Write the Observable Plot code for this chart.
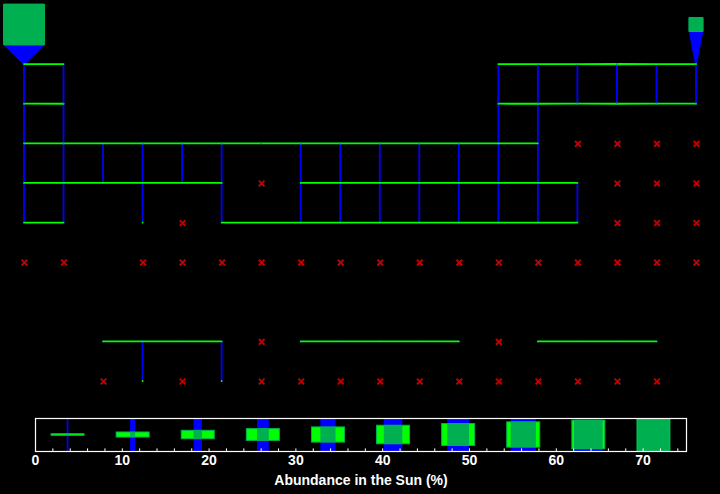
<!DOCTYPE html>
<html>
<head>
<meta charset="utf-8">
<script src="https://cdn.jsdelivr.net/npm/d3@7"></script>
<script src="https://cdn.jsdelivr.net/npm/@observablehq/plot@0.6"></script>
<style>
  html, body { margin: 0; padding: 0; background: #000; }
  #chart svg { display: block; }
</style>
</head>
<body>
<div id="chart"></div>
<script>
// Elements (row 1-7 = periods, row 9 = lanthanides, row 10 = actinides)
const symbols = [
  "H","He",
  "Li","Be","B","C","N","O","F","Ne",
  "Na","Mg","Al","Si","P","S","Cl","Ar",
  "K","Ca","Sc","Ti","V","Cr","Mn","Fe","Co","Ni","Cu","Zn","Ga","Ge","As","Se","Br","Kr",
  "Rb","Sr","Y","Zr","Nb","Mo","Tc","Ru","Rh","Pd","Ag","Cd","In","Sn","Sb","Te","I","Xe",
  "Cs","Ba","Hf","Ta","W","Re","Os","Ir","Pt","Au","Hg","Tl","Pb","Bi","Po","At","Rn",
  "Fr","Ra","Rf","Db","Sg","Bh","Hs","Mt","Ds","Rg","Cn","Nh","Fl","Mc","Lv","Ts","Og",
  "La","Ce","Pr","Nd","Pm","Sm","Eu","Gd","Tb","Dy","Ho","Er","Tm","Yb","Lu",
  "Ac","Th","Pa","U","Np","Pu","Am","Cm","Bk","Cf","Es","Fm","Md","No","Lr"
];
const groups = [
  1,18,
  1,2,13,14,15,16,17,18,
  1,2,13,14,15,16,17,18,
  1,2,3,4,5,6,7,8,9,10,11,12,13,14,15,16,17,18,
  1,2,3,4,5,6,7,8,9,10,11,12,13,14,15,16,17,18,
  1,2,4,5,6,7,8,9,10,11,12,13,14,15,16,17,18,
  1,2,4,5,6,7,8,9,10,11,12,13,14,15,16,17,18,
  3,4,5,6,7,8,9,10,11,12,13,14,15,16,17,
  3,4,5,6,7,8,9,10,11,12,13,14,15,16,17
];
const rows = [
  1,1,
  2,2,2,2,2,2,2,2,
  3,3,3,3,3,3,3,3,
  4,4,4,4,4,4,4,4,4,4,4,4,4,4,4,4,4,4,
  5,5,5,5,5,5,5,5,5,5,5,5,5,5,5,5,5,5,
  6,6,6,6,6,6,6,6,6,6,6,6,6,6,6,6,6,
  7,7,7,7,7,7,7,7,7,7,7,7,7,7,7,7,7,
  9,9,9,9,9,9,9,9,9,9,9,9,9,9,9,
  10,10,10,10,10,10,10,10,10,10,10,10,10,10,10
];
// Abundance in the Sun (% by mass); null = no data
const abundance = [
  73.46, 24.0,
  6e-7, 1e-8, 4e-7, 0.29, 0.09, 0.77, 5e-5, 0.12,
  0.0033, 0.05, 0.0055, 0.07, 0.0007, 0.04, 0.0009, 0.007,
  0.0004, 0.006, 4e-6, 0.0003, 3e-5, 0.0017, 0.001, 0.16, 0.0004, 0.007, 7e-5, 0.0002, 6e-6, 2e-5, null, null, null, null,
  5e-6, 6e-6, 1e-6, 4e-6, 4e-7, 9e-7, null, 5e-7, 1e-7, 4e-7, 1e-7, 5e-7, 8e-8, 9e-7, 1e-7, null, null, null,
  8e-8, 1e-6, 7e-8, null, 1e-7, 1e-8, 3e-7, 2e-7, 5e-7, 1e-7, 1e-7, 1e-7, 7e-7, 7e-8, null, null, null,
  null, null, null, null, null, null, null, null, null, null, null, null, null, null, null, null, null,
  1e-7, 3e-7, 5e-8, 2e-7, null, 8e-8, 3e-8, 1e-7, 2e-8, 1e-7, null, 7e-8, 1e-8, 6e-8, 1e-8,
  null, 4e-8, null, 1e-8, null, null, null, null, null, null, null, null, null, null, null
];

// Legend
const legendValues = [3.75, 11.25, 18.75, 26.25, 33.75, 41.25, 48.75, 56.25, 63.75, 71.25];
const legendTicks = [0, 10, 20, 30, 40, 50, 60, 70];
const legendMinorTicks = d3.range(0, 75, 2);
const legendTitle = "Abundance in the Sun (%)";

const BLUE = "#0000ff", GREEN = "#00ff00", MIX = "#00b050", RED = "#c00000";
const FONT = "'Liberation Sans', Arial, Helvetica, sans-serif";

const cells = symbols.map((s, i) => ({s, g: groups[i], r: rows[i], v: abundance[i]}));
const vmax = d3.max(abundance);
const byKey = new Map(cells.map(d => [d.g + "," + d.r, d]));
const present = cells.filter(d => d.v != null).map(d => ({...d, w: d.v / vmax}));
const missing = cells.filter(d => d.v == null);
const allRows = d3.range(1, 11), allGroups = d3.range(1, 19);

// green bands along rows
const greenPts = [];
for (const r of allRows) {
  for (const g of allGroups) {
    const c = byKey.get(g + "," + r);
    if (c && c.v != null) {
      const w = c.v / vmax;
      greenPts.push({x: g - w / 2, y1: r - w / 2, y2: r + w / 2, z: r});
      greenPts.push({x: g + w / 2, y1: r - w / 2, y2: r + w / 2, z: r});
    } else {
      greenPts.push({x: g, y1: NaN, y2: NaN, z: r});
    }
  }
}
// blue bands along groups
const bluePts = [];
for (const g of allGroups) {
  for (const r of allRows) {
    const c = byKey.get(g + "," + r);
    if (c && c.v != null) {
      const w = c.v / vmax;
      bluePts.push({y: r - w / 2, x1: g - w / 2, x2: g + w / 2, z: g});
      bluePts.push({y: r + w / 2, x1: g - w / 2, x2: g + w / 2, z: g});
    } else {
      bluePts.push({y: r, x1: NaN, x2: NaN, z: g});
    }
  }
}

const main = Plot.plot({
  width: 720,
  height: 410,
  margin: 0,
  x: {domain: [1, 18], range: [24, 696], axis: null},
  y: {domain: [1, 10], range: [24.5, 381], axis: null},
  style: {background: "#000", color: "#fff"},
  marks: [
    Plot.areaX(bluePts, {y: "y", x1: "x1", x2: "x2", z: "z", fill: BLUE, stroke: BLUE, strokeWidth: 1.8}),
    Plot.areaY(greenPts, {x: "x", y1: "y1", y2: "y2", z: "z", fill: GREEN, stroke: GREEN, strokeWidth: 1.8}),
    Plot.rect(present, {x1: d => d.g - d.w / 2, x2: d => d.g + d.w / 2, y1: d => d.r - d.w / 2, y2: d => d.r + d.w / 2, fill: MIX, stroke: MIX, strokeWidth: 1.5}),
    Plot.dot(missing, {x: "g", y: "r", symbol: "times", r: 2.7, stroke: RED, strokeWidth: 2})
  ]
});

const half = 1.9; // half of a legend glyph cell, in abundance units
const legend = Plot.plot({
  width: 720,
  height: 84,
  marginLeft: 35,
  marginRight: 34,
  marginTop: 8,
  marginBottom: 43,
  x: {domain: [0, 75], axis: null},
  y: {domain: [0, 1], axis: null},
  style: {background: "#000", color: "#fff", fontFamily: FONT, fontSize: "14px", fontWeight: "bold"},
  marks: [
    Plot.rect(legendValues, {x1: v => v - half * v / vmax, x2: v => v + half * v / vmax, y1: 0, y2: 1, fill: BLUE}),
    Plot.rect(legendValues, {x1: v => v - half, x2: v => v + half, y1: v => 0.5 - v / vmax / 2, y2: v => 0.5 + v / vmax / 2, fill: GREEN, stroke: MIX, strokeWidth: 1}),
    Plot.rect(legendValues, {x1: v => v - half * v / vmax, x2: v => v + half * v / vmax, y1: v => 0.5 - v / vmax / 2, y2: v => 0.5 + v / vmax / 2, fill: MIX}),
    Plot.ruleX(legendMinorTicks, {x: d => d, y1: 0, y2: 0.08, stroke: "#fff"}),
    Plot.frame({stroke: "#fff", strokeWidth: 1.2}),
    Plot.text(legendTicks, {x: d => d, text: d => String(d), frameAnchor: "bottom", dy: 13, fill: "#fff"}),
    Plot.text([legendTitle], {frameAnchor: "bottom", dy: 33, fill: "#fff"})
  ]
});

document.getElementById("chart").append(main, legend);
</script>
</body>
</html>
